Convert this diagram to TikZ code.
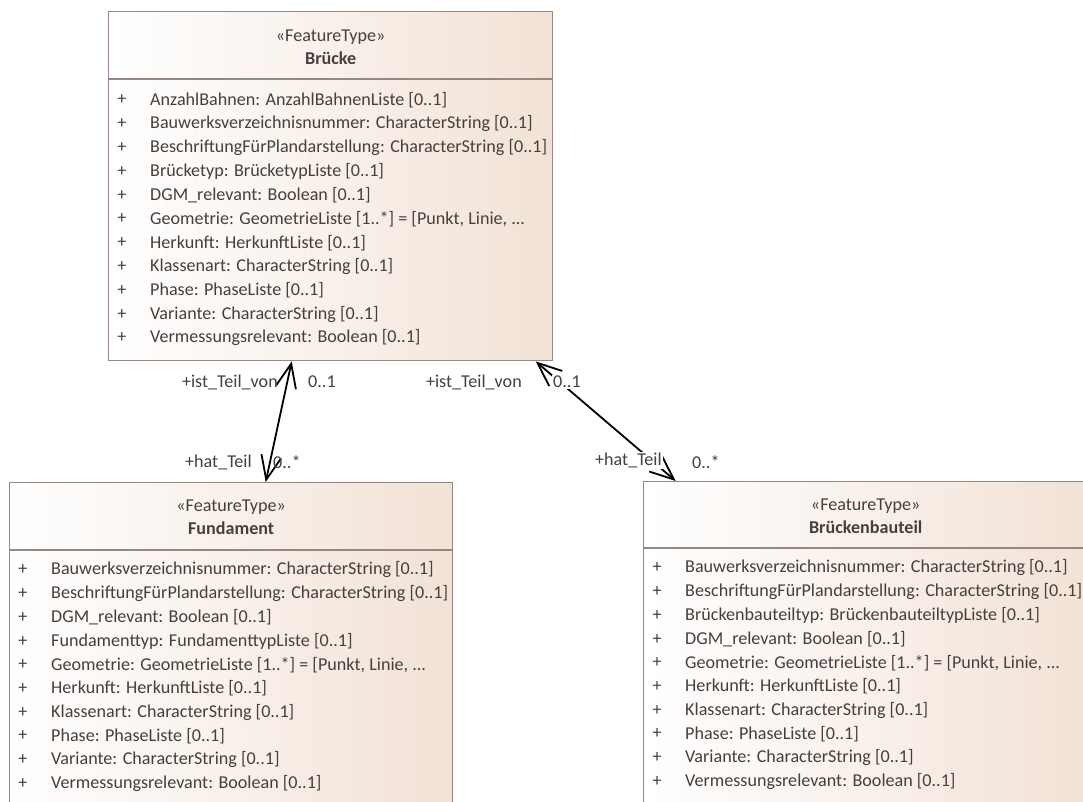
\documentclass[tikz,border=0pt]{standalone}
\usepackage{fontspec}
\setmainfont{Carlito}
\usetikzlibrary{arrows.meta}
\usetikzlibrary{calc}
\definecolor{boxline}{HTML}{968782}
\definecolor{boxfill}{HTML}{F2E2D6}
\definecolor{txt}{HTML}{45403E}
\newcommand{\umlfont}{\fontsize{18.1}{22}\selectfont}
\newcommand{\moredots}{...}

\begin{document}
\begin{tikzpicture}[x=1pt,y=-1pt,font=\umlfont]
\tikzstyle{classbox}=[draw=boxline,line width=1.4pt,left color=white,right color=boxfill,rectangle,inner sep=0pt,anchor=north west]
\tikzstyle{sepline}=[draw=boxline,line width=1.4pt]
\tikzstyle{stereo}=[text=txt,inner sep=0pt]
\tikzstyle{cname}=[text=txt,inner sep=0pt,font=\umlfont\bfseries]
\tikzstyle{attr}=[text=txt,inner sep=0pt,anchor=west]
\tikzstyle{plus}=[text=txt,inner sep=0pt]
\tikzstyle{role}=[text=txt,inner sep=1pt]
\tikzstyle{rolebg}=[role,fill=white]
\tikzstyle{assoc}=[line width=1.8pt,{Straight Barb[length=24pt,width=20pt]}-{Straight Barb[length=24pt,width=20pt]}]

\useasboundingbox (0,0) rectangle (1083,801);
\clip (0,0) rectangle (1083,801);

\node[classbox,minimum width=444pt,minimum height=349pt] (bruecke) at (108,11) {};
\draw[sepline] ($(bruecke.north west)+(0,68)$) -- ($(bruecke.north east)+(0,68)$);
\node[stereo] (bruecke-st) at ($(bruecke.north)+(0,26)$) {«FeatureType»};
\node[cname] (bruecke-nm) at ($(bruecke.north)+(0,47)$) {Brücke};
\foreach \t [count=\i from 0] in {
  AnzahlBahnen: AnzahlBahnenListe [0..1],
  Bauwerksverzeichnisnummer: CharacterString [0..1],
  BeschriftungFürPlandarstellung: CharacterString [0..1],
  Brücketyp: BrücketypListe [0..1],
  DGM\_relevant: Boolean [0..1],
  {Geometrie: GeometrieListe [1..*] = [Punkt, Linie, \moredots},
  Herkunft: HerkunftListe [0..1],
  Klassenart: CharacterString [0..1],
  Phase: PhaseListe [0..1],
  Variante: CharacterString [0..1],
  Vermessungsrelevant: Boolean [0..1]}
{
  \node[plus] at ($(bruecke.north west)+(14,89+23.8*\i)$) {+};
  \node[attr] at ($(bruecke.north west)+(42,89+23.8*\i)$) {\t};
}

\node[classbox,minimum width=443pt,minimum height=340pt] (fundament) at (9,482) {};
\draw[sepline] ($(fundament.north west)+(0,68)$) -- ($(fundament.north east)+(0,68)$);
\node[stereo] (fundament-st) at ($(fundament.north)+(0,25)$) {«FeatureType»};
\node[cname] (fundament-nm) at ($(fundament.north)+(0,46)$) {Fundament};
\foreach \t [count=\i from 0] in {
  Bauwerksverzeichnisnummer: CharacterString [0..1],
  BeschriftungFürPlandarstellung: CharacterString [0..1],
  DGM\_relevant: Boolean [0..1],
  Fundamenttyp: FundamenttypListe [0..1],
  {Geometrie: GeometrieListe [1..*] = [Punkt, Linie, \moredots},
  Herkunft: HerkunftListe [0..1],
  Klassenart: CharacterString [0..1],
  Phase: PhaseListe [0..1],
  Variante: CharacterString [0..1],
  Vermessungsrelevant: Boolean [0..1]}
{
  \node[plus] at ($(fundament.north west)+(14,88+23.7*\i)$) {+};
  \node[attr] at ($(fundament.north west)+(42,88+23.7*\i)$) {\t};
}

\node[classbox,minimum width=444pt,minimum height=340pt] (bauteil) at (643,481) {};
\draw[sepline] ($(bauteil.north west)+(0,67)$) -- ($(bauteil.north east)+(0,67)$);
\node[stereo] (bauteil-st) at ($(bauteil.north)+(0,25)$) {«FeatureType»};
\node[cname] (bauteil-nm) at ($(bauteil.north)+(0,46)$) {Brückenbauteil};
\foreach \t [count=\i from 0] in {
  Bauwerksverzeichnisnummer: CharacterString [0..1],
  BeschriftungFürPlandarstellung: CharacterString [0..1],
  Brückenbauteiltyp: BrückenbauteiltypListe [0..1],
  DGM\_relevant: Boolean [0..1],
  {Geometrie: GeometrieListe [1..*] = [Punkt, Linie, \moredots},
  Herkunft: HerkunftListe [0..1],
  Klassenart: CharacterString [0..1],
  Phase: PhaseListe [0..1],
  Variante: CharacterString [0..1],
  Vermessungsrelevant: Boolean [0..1]}
{
  \node[plus] at ($(bauteil.north west)+(14,87+23.7*\i)$) {+};
  \node[attr] at ($(bauteil.north west)+(42,87+23.7*\i)$) {\t};
}

\coordinate (bruecke-a) at ($(bruecke.south)+(-39,0)$);
\coordinate (bruecke-b) at ($(bruecke.south)+(205,0)$);
\coordinate (fundament-a) at ($(fundament.north)+(34.5,0)$);
\coordinate (bauteil-a) at ($(bauteil.north)+(-190,0)$);
\draw[assoc] (bruecke-a) -- (fundament-a);
\draw[assoc] (bruecke-b) -- (bauteil-a);

\node[role,anchor=east] (r1) at (279,382) {+ist\_Teil\_von};
\node[role,anchor=west] (m1) at (307,382) {0..1};
\node[role,anchor=east] (r2) at (253,462) {+hat\_Teil};
\node[role,anchor=west] (m2) at (272,462) {0..*};
\node[rolebg,anchor=east] (r3) at (523,382) {+ist\_Teil\_von};
\node[rolebg,anchor=west] (m3) at (552,382) {0..1};
\node[rolebg,anchor=east] (r4) at (663,460) {+hat\_Teil};
\node[rolebg,anchor=west] (m4) at (691,462) {0..*};
\end{tikzpicture}
\end{document}
